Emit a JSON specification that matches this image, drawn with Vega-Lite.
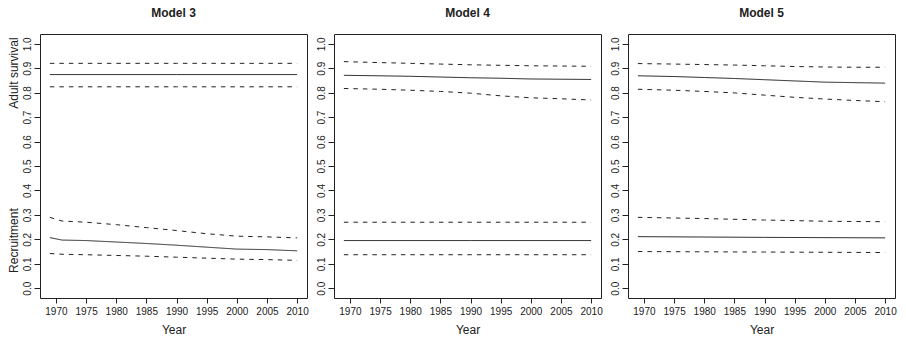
{
  "$schema": "https://vega.github.io/schema/vega-lite/v6.json",
  "padding": {"left": 7, "top": 6, "right": 5, "bottom": 2},
  "spacing": 27,
  "bounds": "flush",
  "config": {
    "font": "Liberation Sans",
    "view": {"stroke": "#222", "strokeWidth": 1},
    "axis": {"domain": false, "grid": false, "tickColor": "#222", "tickSize": 5, "labelFont": "Liberation Sans", "labelFontSize": 10, "labelColor": "#222", "labelOverlap": false, "labelFlush": false, "titleFont": "Liberation Sans", "titleFontSize": 12, "titleFontWeight": "normal", "titleColor": "#222"},
    "title": {"font": "Liberation Sans", "fontSize": 12, "fontWeight": "bold", "color": "#222", "offset": 14, "anchor": "middle"}
  },
  "datasets": {
    "est": [
      {"m": "Model 3", "p": "survival", "s": "mean", "year": 1969, "v": 0.874},
      {"m": "Model 3", "p": "survival", "s": "mean", "year": 1990, "v": 0.874},
      {"m": "Model 3", "p": "survival", "s": "mean", "year": 2010, "v": 0.874},
      {"m": "Model 3", "p": "survival", "s": "upper", "year": 1969, "v": 0.920},
      {"m": "Model 3", "p": "survival", "s": "upper", "year": 1990, "v": 0.920},
      {"m": "Model 3", "p": "survival", "s": "upper", "year": 2010, "v": 0.920},
      {"m": "Model 3", "p": "survival", "s": "lower", "year": 1969, "v": 0.824},
      {"m": "Model 3", "p": "survival", "s": "lower", "year": 1990, "v": 0.824},
      {"m": "Model 3", "p": "survival", "s": "lower", "year": 2010, "v": 0.824},
      {"m": "Model 3", "p": "recruitment", "s": "mean", "year": 1969, "v": 0.207},
      {"m": "Model 3", "p": "recruitment", "s": "mean", "year": 1971, "v": 0.197},
      {"m": "Model 3", "p": "recruitment", "s": "mean", "year": 1975, "v": 0.195},
      {"m": "Model 3", "p": "recruitment", "s": "mean", "year": 1980, "v": 0.189},
      {"m": "Model 3", "p": "recruitment", "s": "mean", "year": 1985, "v": 0.183},
      {"m": "Model 3", "p": "recruitment", "s": "mean", "year": 1990, "v": 0.176},
      {"m": "Model 3", "p": "recruitment", "s": "mean", "year": 1995, "v": 0.168},
      {"m": "Model 3", "p": "recruitment", "s": "mean", "year": 2000, "v": 0.160},
      {"m": "Model 3", "p": "recruitment", "s": "mean", "year": 2005, "v": 0.158},
      {"m": "Model 3", "p": "recruitment", "s": "mean", "year": 2010, "v": 0.153},
      {"m": "Model 3", "p": "recruitment", "s": "upper", "year": 1969, "v": 0.290},
      {"m": "Model 3", "p": "recruitment", "s": "upper", "year": 1971, "v": 0.275},
      {"m": "Model 3", "p": "recruitment", "s": "upper", "year": 1975, "v": 0.270},
      {"m": "Model 3", "p": "recruitment", "s": "upper", "year": 1980, "v": 0.260},
      {"m": "Model 3", "p": "recruitment", "s": "upper", "year": 1985, "v": 0.248},
      {"m": "Model 3", "p": "recruitment", "s": "upper", "year": 1990, "v": 0.236},
      {"m": "Model 3", "p": "recruitment", "s": "upper", "year": 1995, "v": 0.223},
      {"m": "Model 3", "p": "recruitment", "s": "upper", "year": 2000, "v": 0.213},
      {"m": "Model 3", "p": "recruitment", "s": "upper", "year": 2005, "v": 0.210},
      {"m": "Model 3", "p": "recruitment", "s": "upper", "year": 2010, "v": 0.206},
      {"m": "Model 3", "p": "recruitment", "s": "lower", "year": 1969, "v": 0.142},
      {"m": "Model 3", "p": "recruitment", "s": "lower", "year": 1971, "v": 0.139},
      {"m": "Model 3", "p": "recruitment", "s": "lower", "year": 1975, "v": 0.137},
      {"m": "Model 3", "p": "recruitment", "s": "lower", "year": 1980, "v": 0.134},
      {"m": "Model 3", "p": "recruitment", "s": "lower", "year": 1985, "v": 0.131},
      {"m": "Model 3", "p": "recruitment", "s": "lower", "year": 1990, "v": 0.127},
      {"m": "Model 3", "p": "recruitment", "s": "lower", "year": 1995, "v": 0.123},
      {"m": "Model 3", "p": "recruitment", "s": "lower", "year": 2000, "v": 0.119},
      {"m": "Model 3", "p": "recruitment", "s": "lower", "year": 2005, "v": 0.117},
      {"m": "Model 3", "p": "recruitment", "s": "lower", "year": 2010, "v": 0.114},

      {"m": "Model 4", "p": "survival", "s": "mean", "year": 1969, "v": 0.871},
      {"m": "Model 4", "p": "survival", "s": "mean", "year": 1975, "v": 0.869},
      {"m": "Model 4", "p": "survival", "s": "mean", "year": 1980, "v": 0.867},
      {"m": "Model 4", "p": "survival", "s": "mean", "year": 1985, "v": 0.864},
      {"m": "Model 4", "p": "survival", "s": "mean", "year": 1990, "v": 0.861},
      {"m": "Model 4", "p": "survival", "s": "mean", "year": 1995, "v": 0.859},
      {"m": "Model 4", "p": "survival", "s": "mean", "year": 2000, "v": 0.856},
      {"m": "Model 4", "p": "survival", "s": "mean", "year": 2005, "v": 0.855},
      {"m": "Model 4", "p": "survival", "s": "mean", "year": 2010, "v": 0.854},
      {"m": "Model 4", "p": "survival", "s": "upper", "year": 1969, "v": 0.927},
      {"m": "Model 4", "p": "survival", "s": "upper", "year": 1975, "v": 0.923},
      {"m": "Model 4", "p": "survival", "s": "upper", "year": 1980, "v": 0.920},
      {"m": "Model 4", "p": "survival", "s": "upper", "year": 1985, "v": 0.917},
      {"m": "Model 4", "p": "survival", "s": "upper", "year": 1990, "v": 0.914},
      {"m": "Model 4", "p": "survival", "s": "upper", "year": 1995, "v": 0.912},
      {"m": "Model 4", "p": "survival", "s": "upper", "year": 2000, "v": 0.910},
      {"m": "Model 4", "p": "survival", "s": "upper", "year": 2005, "v": 0.909},
      {"m": "Model 4", "p": "survival", "s": "upper", "year": 2010, "v": 0.908},
      {"m": "Model 4", "p": "survival", "s": "lower", "year": 1969, "v": 0.817},
      {"m": "Model 4", "p": "survival", "s": "lower", "year": 1975, "v": 0.814},
      {"m": "Model 4", "p": "survival", "s": "lower", "year": 1980, "v": 0.810},
      {"m": "Model 4", "p": "survival", "s": "lower", "year": 1985, "v": 0.805},
      {"m": "Model 4", "p": "survival", "s": "lower", "year": 1990, "v": 0.798},
      {"m": "Model 4", "p": "survival", "s": "lower", "year": 1995, "v": 0.787},
      {"m": "Model 4", "p": "survival", "s": "lower", "year": 2000, "v": 0.779},
      {"m": "Model 4", "p": "survival", "s": "lower", "year": 2005, "v": 0.775},
      {"m": "Model 4", "p": "survival", "s": "lower", "year": 2010, "v": 0.770},
      {"m": "Model 4", "p": "recruitment", "s": "mean", "year": 1969, "v": 0.195},
      {"m": "Model 4", "p": "recruitment", "s": "mean", "year": 1990, "v": 0.195},
      {"m": "Model 4", "p": "recruitment", "s": "mean", "year": 2010, "v": 0.195},
      {"m": "Model 4", "p": "recruitment", "s": "upper", "year": 1969, "v": 0.270},
      {"m": "Model 4", "p": "recruitment", "s": "upper", "year": 1990, "v": 0.270},
      {"m": "Model 4", "p": "recruitment", "s": "upper", "year": 2010, "v": 0.270},
      {"m": "Model 4", "p": "recruitment", "s": "lower", "year": 1969, "v": 0.137},
      {"m": "Model 4", "p": "recruitment", "s": "lower", "year": 1990, "v": 0.137},
      {"m": "Model 4", "p": "recruitment", "s": "lower", "year": 2010, "v": 0.137},

      {"m": "Model 5", "p": "survival", "s": "mean", "year": 1969, "v": 0.869},
      {"m": "Model 5", "p": "survival", "s": "mean", "year": 1975, "v": 0.866},
      {"m": "Model 5", "p": "survival", "s": "mean", "year": 1980, "v": 0.862},
      {"m": "Model 5", "p": "survival", "s": "mean", "year": 1985, "v": 0.858},
      {"m": "Model 5", "p": "survival", "s": "mean", "year": 1990, "v": 0.853},
      {"m": "Model 5", "p": "survival", "s": "mean", "year": 1995, "v": 0.848},
      {"m": "Model 5", "p": "survival", "s": "mean", "year": 2000, "v": 0.843},
      {"m": "Model 5", "p": "survival", "s": "mean", "year": 2005, "v": 0.841},
      {"m": "Model 5", "p": "survival", "s": "mean", "year": 2010, "v": 0.839},
      {"m": "Model 5", "p": "survival", "s": "upper", "year": 1969, "v": 0.919},
      {"m": "Model 5", "p": "survival", "s": "upper", "year": 1975, "v": 0.917},
      {"m": "Model 5", "p": "survival", "s": "upper", "year": 1980, "v": 0.915},
      {"m": "Model 5", "p": "survival", "s": "upper", "year": 1985, "v": 0.913},
      {"m": "Model 5", "p": "survival", "s": "upper", "year": 1990, "v": 0.910},
      {"m": "Model 5", "p": "survival", "s": "upper", "year": 1995, "v": 0.907},
      {"m": "Model 5", "p": "survival", "s": "upper", "year": 2000, "v": 0.905},
      {"m": "Model 5", "p": "survival", "s": "upper", "year": 2005, "v": 0.904},
      {"m": "Model 5", "p": "survival", "s": "upper", "year": 2010, "v": 0.904},
      {"m": "Model 5", "p": "survival", "s": "lower", "year": 1969, "v": 0.814},
      {"m": "Model 5", "p": "survival", "s": "lower", "year": 1975, "v": 0.810},
      {"m": "Model 5", "p": "survival", "s": "lower", "year": 1980, "v": 0.805},
      {"m": "Model 5", "p": "survival", "s": "lower", "year": 1985, "v": 0.799},
      {"m": "Model 5", "p": "survival", "s": "lower", "year": 1990, "v": 0.790},
      {"m": "Model 5", "p": "survival", "s": "lower", "year": 1995, "v": 0.781},
      {"m": "Model 5", "p": "survival", "s": "lower", "year": 2000, "v": 0.774},
      {"m": "Model 5", "p": "survival", "s": "lower", "year": 2005, "v": 0.768},
      {"m": "Model 5", "p": "survival", "s": "lower", "year": 2010, "v": 0.763},
      {"m": "Model 5", "p": "recruitment", "s": "mean", "year": 1969, "v": 0.211},
      {"m": "Model 5", "p": "recruitment", "s": "mean", "year": 1990, "v": 0.208},
      {"m": "Model 5", "p": "recruitment", "s": "mean", "year": 2010, "v": 0.206},
      {"m": "Model 5", "p": "recruitment", "s": "upper", "year": 1969, "v": 0.290},
      {"m": "Model 5", "p": "recruitment", "s": "upper", "year": 1980, "v": 0.285},
      {"m": "Model 5", "p": "recruitment", "s": "upper", "year": 1990, "v": 0.279},
      {"m": "Model 5", "p": "recruitment", "s": "upper", "year": 2000, "v": 0.274},
      {"m": "Model 5", "p": "recruitment", "s": "upper", "year": 2010, "v": 0.272},
      {"m": "Model 5", "p": "recruitment", "s": "lower", "year": 1969, "v": 0.150},
      {"m": "Model 5", "p": "recruitment", "s": "lower", "year": 1990, "v": 0.148},
      {"m": "Model 5", "p": "recruitment", "s": "lower", "year": 2010, "v": 0.146}
    ],
    "labels": [
      {"label": "Adult survival", "year": 1963.0, "v": 0.88},
      {"label": "Recruitment", "year": 1963.0, "v": 0.195}
    ]
  },
  "hconcat": [
    {
      "width": 267, "height": 264,
      "title": "Model 3",
      "encoding": {
        "x": {"field": "year", "type": "quantitative", "scale": {"domain": [1967.36, 2011.64], "nice": false, "zero": false}, "axis": {"values": [1970, 1975, 1980, 1985, 1990, 1995, 2000, 2005, 2010], "format": "d", "title": "Year", "titlePadding": 8, "labelPadding": 3}},
        "y": {"field": "v", "type": "quantitative", "scale": {"domain": [-0.04, 1.04], "nice": false, "zero": false}, "axis": {"values": [0, 0.1, 0.2, 0.3, 0.4, 0.5, 0.6, 0.7, 0.8, 0.9, 1.0], "format": ".1f", "labelAngle": 270, "title": null, "tickSize": 6, "labelPadding": 2}}
      },
      "layer": [
        {
          "data": {"name": "est"},
          "transform": [{"filter": "datum.m === 'Model 3'"}],
          "mark": {"type": "line", "stroke": "#222", "strokeWidth": 1},
          "encoding": {
            "detail": {"field": "p", "type": "nominal"},
            "strokeDash": {"field": "s", "type": "nominal", "scale": {"domain": ["mean", "upper", "lower"], "range": [[1, 0], [4.5, 5], [4.5, 5]]}, "legend": null}
          }
        },
        {
          "data": {"name": "labels"},
          "mark": {"type": "text", "angle": 270, "fontSize": 12, "color": "#222", "font": "Liberation Sans"},
          "encoding": {
            "text": {"field": "label"}
          }
        }
      ]
    },
    {
      "width": 267, "height": 264,
      "title": "Model 4",
      "data": {"name": "est"},
      "transform": [{"filter": "datum.m === 'Model 4'"}],
      "mark": {"type": "line", "stroke": "#222", "strokeWidth": 1},
      "encoding": {
        "x": {"field": "year", "type": "quantitative", "scale": {"domain": [1967.36, 2011.64], "nice": false, "zero": false}, "axis": {"values": [1970, 1975, 1980, 1985, 1990, 1995, 2000, 2005, 2010], "format": "d", "title": "Year", "titlePadding": 8, "labelPadding": 3}},
        "y": {"field": "v", "type": "quantitative", "scale": {"domain": [-0.04, 1.04], "nice": false, "zero": false}, "axis": {"values": [0, 0.1, 0.2, 0.3, 0.4, 0.5, 0.6, 0.7, 0.8, 0.9, 1.0], "format": ".1f", "labelAngle": 270, "title": null, "tickSize": 6, "labelPadding": 2}},
        "detail": {"field": "p", "type": "nominal"},
        "strokeDash": {"field": "s", "type": "nominal", "scale": {"domain": ["mean", "upper", "lower"], "range": [[1, 0], [4.5, 5], [4.5, 5]]}, "legend": null}
      }
    },
    {
      "width": 267, "height": 264,
      "title": "Model 5",
      "data": {"name": "est"},
      "transform": [{"filter": "datum.m === 'Model 5'"}],
      "mark": {"type": "line", "stroke": "#222", "strokeWidth": 1},
      "encoding": {
        "x": {"field": "year", "type": "quantitative", "scale": {"domain": [1967.36, 2011.64], "nice": false, "zero": false}, "axis": {"values": [1970, 1975, 1980, 1985, 1990, 1995, 2000, 2005, 2010], "format": "d", "title": "Year", "titlePadding": 8, "labelPadding": 3}},
        "y": {"field": "v", "type": "quantitative", "scale": {"domain": [-0.04, 1.04], "nice": false, "zero": false}, "axis": {"values": [0, 0.1, 0.2, 0.3, 0.4, 0.5, 0.6, 0.7, 0.8, 0.9, 1.0], "format": ".1f", "labelAngle": 270, "title": null, "tickSize": 6, "labelPadding": 2}},
        "detail": {"field": "p", "type": "nominal"},
        "strokeDash": {"field": "s", "type": "nominal", "scale": {"domain": ["mean", "upper", "lower"], "range": [[1, 0], [4.5, 5], [4.5, 5]]}, "legend": null}
      }
    }
  ]
}
